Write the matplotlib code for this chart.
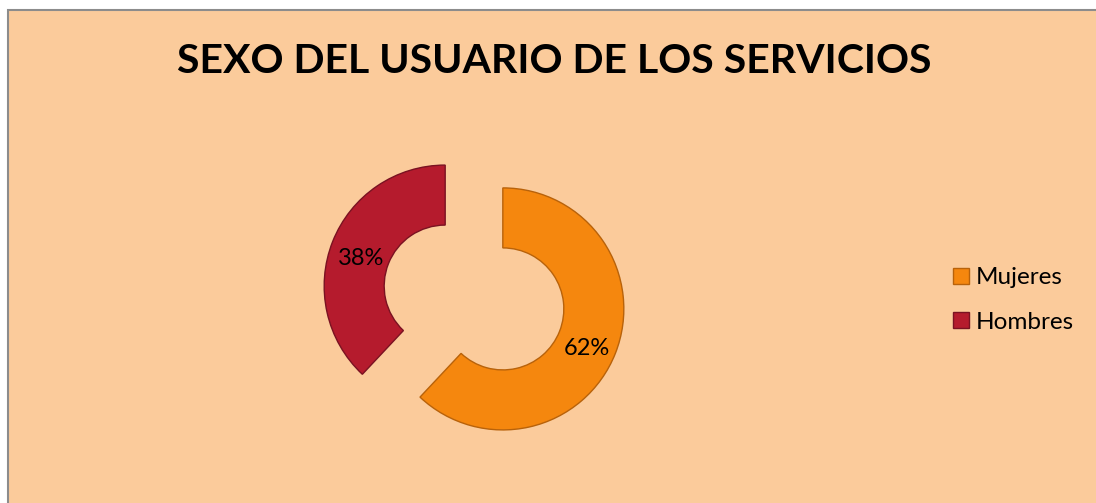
import matplotlib
matplotlib.use("Agg")
import matplotlib.pyplot as plt
from matplotlib.patches import Rectangle

title = "SEXO DEL USUARIO DE LOS SERVICIOS"
categories = ["Mujeres", "Hombres"]
values = [62, 38]
colors = ["#F5870E", "#B51B2D"]
edge_colors = ["#B8620A", "#7A1222"]

plt.rcParams['font.family'] = ['Lato', 'DejaVu Sans']

fig = plt.figure(figsize=(10.96, 5.03), dpi=100)
fig.patch.set_facecolor("white")
ax = fig.add_axes([0, 0, 1, 1])

wedges, texts, autotexts = ax.pie(
    values,
    colors=colors,
    startangle=90,
    counterclock=False,
    center=(474, 205.5),
    radius=121,
    explode=[31, 31],
    wedgeprops=dict(width=60, linewidth=1.0),
    autopct=lambda p: f"{p:.0f}%",
    pctdistance=0.75,
    textprops=dict(fontsize=17, color="black"),
)
for w, ec in zip(wedges, edge_colors):
    w.set_edgecolor(ec)
for t in autotexts:
    x, y = t.get_position()
    t.set_position((x, y - 6))

ax.set_aspect("auto")
ax.set_xlim(0, 1096)
ax.set_ylim(0, 503)
ax.axis("off")

# chart area panel (fill, then top and left border lines)
ax.add_patch(Rectangle((7.5, 0), 1096, 503 - 9.5, facecolor="#FBCB9B",
                       edgecolor="none", zorder=0))
ax.plot([7.5, 7.5, 1096], [0, 493.5, 493.5], color="#8C8C8C", lw=1.5,
        zorder=0.5, solid_joinstyle="miter")

ax.text(554, 503 - 61, title, ha="center", va="center",
        fontsize=29.5, fontweight="bold", color="black")

leg = ax.legend(wedges, categories, loc="center left",
                bbox_to_anchor=(953, 503 - 300), bbox_transform=ax.transData,
                frameon=False, fontsize=17.5, handlelength=0.65, handleheight=0.65,
                handletextpad=0.3, labelspacing=0.95, borderpad=0, borderaxespad=0)

fig.savefig("out.png", dpi=100, facecolor=fig.get_facecolor())
